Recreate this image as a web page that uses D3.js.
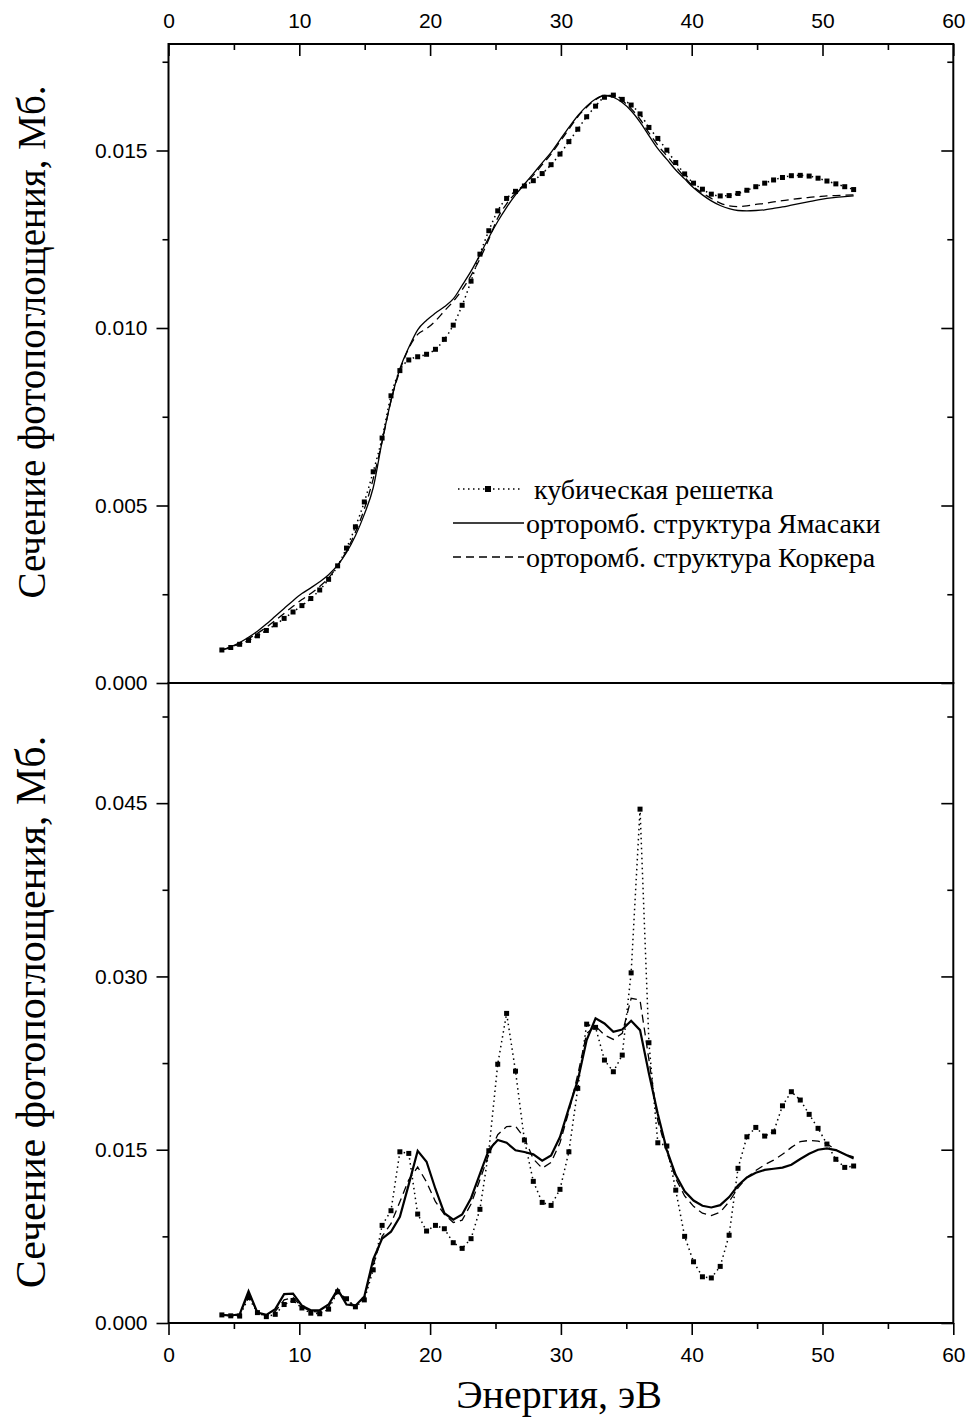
<!DOCTYPE html>
<html><head><meta charset="utf-8">
<script src="https://cdn.jsdelivr.net/npm/d3@7"></script>
<style>
html,body{margin:0;padding:0;background:#fff;}
svg{display:block;}
.tick text{font-family:"Liberation Sans",Arial,sans-serif;font-size:21px;fill:#000;}
</style></head>
<body>
<svg id="chart" width="972" height="1425"></svg>
<script>
// Energy grid (eV)
const energy = [4.08,4.76,5.44,6.12,6.80,7.48,8.16,8.84,9.52,10.20,10.88,11.56,12.24,12.93,13.61,14.29,14.97,15.65,16.33,17.01,17.69,18.37,19.05,19.73,20.41,21.09,21.77,22.45,23.13,23.81,24.49,25.17,25.85,26.53,27.21,27.89,28.57,29.25,29.93,30.61,31.29,31.97,32.65,33.33,34.01,34.69,35.37,36.05,36.73,37.41,38.10,38.78,39.46,40.14,40.82,41.50,42.18,42.86,43.54,44.22,44.90,45.58,46.26,46.94,47.62,48.30,48.98,49.66,50.34,51.02,51.70,52.38];

// Top panel, values in units of 1e-3 Mb
const topCubic = [0.93,1.00,1.09,1.20,1.33,1.48,1.64,1.82,2.00,2.18,2.38,2.62,2.92,3.30,3.80,4.40,5.10,5.95,6.90,8.09,8.80,9.10,9.19,9.26,9.40,9.68,10.08,10.64,11.32,12.08,12.74,13.30,13.65,13.85,14.00,14.15,14.35,14.60,14.90,15.25,15.60,15.95,16.25,16.50,16.56,16.44,16.28,16.03,15.65,15.34,15.01,14.66,14.34,14.08,13.91,13.77,13.72,13.73,13.79,13.88,13.98,14.08,14.17,14.24,14.29,14.30,14.28,14.22,14.14,14.06,13.98,13.90];
const topYamasaki = [0.93,1.02,1.14,1.29,1.46,1.66,1.88,2.10,2.32,2.52,2.68,2.85,3.05,3.32,3.68,4.15,4.75,5.50,6.80,7.95,8.85,9.45,9.95,10.22,10.42,10.60,10.82,11.20,11.60,12.06,12.55,13.00,13.40,13.75,14.05,14.35,14.65,14.95,15.30,15.65,15.98,16.25,16.45,16.55,16.50,16.35,16.12,15.80,15.42,15.05,14.75,14.45,14.20,13.95,13.75,13.58,13.45,13.36,13.31,13.30,13.31,13.33,13.37,13.41,13.46,13.51,13.56,13.61,13.65,13.68,13.70,13.72];
const topCorker = [0.93,1.01,1.12,1.25,1.40,1.57,1.76,1.96,2.16,2.35,2.52,2.72,2.96,3.30,3.72,4.25,4.90,5.75,6.80,7.95,8.80,9.43,9.82,9.98,10.20,10.48,10.75,11.08,11.48,11.95,12.50,13.10,13.50,13.80,14.05,14.30,14.60,14.90,15.25,15.60,15.95,16.22,16.43,16.55,16.54,16.40,16.18,15.88,15.50,15.15,14.85,14.55,14.25,13.98,13.80,13.65,13.52,13.44,13.42,13.44,13.48,13.51,13.55,13.59,13.62,13.65,13.68,13.70,13.72,13.73,13.74,13.75];

// Bottom panel, values in units of 1e-3 Mb
const botCubic = [0.70,0.62,0.60,2.20,0.90,0.55,0.75,1.60,1.95,1.30,0.85,0.80,1.20,2.70,2.10,1.40,2.00,4.60,8.45,9.72,14.82,14.68,9.43,7.96,8.45,8.16,6.95,6.46,7.30,9.84,14.91,22.40,26.80,21.80,15.84,12.26,10.44,10.18,11.57,14.82,20.31,25.87,25.59,22.76,21.75,23.19,30.31,44.48,24.26,15.60,15.32,11.50,7.50,5.30,4.00,3.90,4.90,7.60,13.39,16.12,16.93,16.18,16.55,18.80,20.02,19.30,18.06,16.85,15.49,14.17,13.47,13.59];
const botYamasaki = [0.70,0.65,0.75,2.75,0.90,0.70,1.20,2.50,2.55,1.50,1.10,1.10,1.60,2.90,1.60,1.50,2.30,5.50,7.30,7.90,9.20,12.00,14.90,13.96,11.60,9.50,8.95,9.40,10.80,12.90,15.00,15.84,15.60,14.95,14.80,14.60,14.05,14.50,16.10,18.60,21.00,24.49,26.37,25.93,25.20,25.41,26.16,25.35,21.60,18.10,14.97,12.80,11.40,10.60,10.15,10.00,10.20,10.90,11.90,12.60,13.00,13.25,13.35,13.45,13.70,14.20,14.65,15.00,15.12,14.97,14.60,14.25];
const botCorker = [0.70,0.63,0.70,2.50,0.90,0.62,1.00,2.00,2.20,1.40,1.00,0.95,1.40,2.80,1.90,1.50,2.20,5.00,7.50,8.60,10.50,12.40,13.50,12.20,10.50,9.40,8.70,8.90,10.30,12.40,14.60,16.30,17.00,17.05,16.00,14.20,13.40,13.90,15.60,18.30,21.50,25.07,25.70,24.92,24.55,25.07,28.10,27.95,22.80,17.50,14.80,12.50,11.00,10.10,9.50,9.30,9.60,10.50,11.70,12.60,13.20,13.70,14.10,14.60,15.20,15.70,15.80,15.75,15.50,15.00,14.60,14.39];

const xTicks = [0,10,20,30,40,50,60];
const xMinor = [5,15,25,35,45,55];
const topYTicks = [0.000,0.005,0.010,0.015];
const topYMinor = [0.0025,0.0075,0.0125,0.0175];
const botYTicks = [0.000,0.015,0.030,0.045];
const botYMinor = [0.0075,0.0225,0.0375,0.0525];

const yTitle = "Сечение фотопоглощения, Мб.";
const xTitle = "Энергия, эВ";
const legendLabels = ["кубическая решетка","орторомб. структура Ямасаки","орторомб. структура Коркера"];

const svg = d3.select("#chart");
const L = 168.5, R = 953.3, T = 44, MID = 683, B = 1323;
const x = d3.scaleLinear().domain([0,60]).range([L,R]);
const yTop = d3.scaleLinear().domain([0,0.018]).range([MID,T]);
const yBot = d3.scaleLinear().domain([0,0.0554]).range([B,MID]);

function series(arr){ return energy.map((e,i)=>({e:e, v:arr[i]/1000})); }

function drawAxisFrame(y, yMaj, yMin, top, bottom, showTop, showBottom){
  const fmt = d3.format(".3f");
  svg.append("g").attr("transform",`translate(${L},0)`)
    .call(d3.axisLeft(y).tickValues(yMaj).tickSize(12).tickPadding(9).tickFormat(fmt));
  svg.append("g").attr("transform",`translate(${L},0)`)
    .call(d3.axisLeft(y).tickValues(yMin).tickSize(6).tickFormat(""));
  svg.append("g").attr("transform",`translate(${R},0)`)
    .call(d3.axisRight(y).tickValues(yMaj).tickSize(-12).tickFormat(""));
  svg.append("g").attr("transform",`translate(${R},0)`)
    .call(d3.axisRight(y).tickValues(yMin).tickSize(-6).tickFormat(""));
  if(showTop){
    svg.append("g").attr("transform",`translate(0,${top})`)
      .call(d3.axisTop(x).tickValues(xTicks).tickSize(-12).tickPadding(16).tickFormat(d3.format("d")));
    svg.append("g").attr("transform",`translate(0,${top})`)
      .call(d3.axisTop(x).tickValues(xMinor).tickSize(-6).tickFormat(""));
  }
  if(showBottom){
    svg.append("g").attr("transform",`translate(0,${bottom})`)
      .call(d3.axisBottom(x).tickValues(xTicks).tickSize(12).tickPadding(12).tickFormat(d3.format("d")));
    svg.append("g").attr("transform",`translate(0,${bottom})`)
      .call(d3.axisBottom(x).tickValues(xMinor).tickSize(6).tickFormat(""));
  }
}

function drawCurves(y, cub, yam, cor, solidW){
  const line = d3.line().x(d=>x(d.e)).y(d=>y(d.v));
  const lineS = d3.line().x(d=>x(d.e)).y(d=>y(d.v)).curve(d3.curveMonotoneX);
  const lg = solidW > 1.6 ? line : lineS;
  svg.append("path").datum(series(cub)).attr("d",lg).attr("fill","none")
    .attr("stroke","#000").attr("stroke-width",1.5).attr("stroke-dasharray","1.5,3.5");
  svg.append("path").datum(series(cor)).attr("d",lg).attr("fill","none")
    .attr("stroke","#000").attr("stroke-width",1.3).attr("stroke-dasharray","8,5");
  svg.append("path").datum(series(yam)).attr("d",lg).attr("fill","none")
    .attr("stroke","#000").attr("stroke-width",solidW);
  svg.append("g").selectAll("rect").data(series(cub)).join("rect")
    .attr("x",d=>x(d.e)-2.5).attr("y",d=>y(d.v)-2.5).attr("width",5).attr("height",5).attr("fill","#000");
}

drawCurves(yTop, topCubic, topYamasaki, topCorker, 1.3);
drawCurves(yBot, botCubic, botYamasaki, botCorker, 2.2);

drawAxisFrame(yTop, topYTicks, topYMinor, T, MID, true, false);
drawAxisFrame(yBot, botYTicks, botYMinor, MID, B, false, true);

svg.selectAll(".domain").remove();
const frame = svg.append("g").attr("fill","none").attr("stroke","#000").attr("stroke-width",2);
frame.append("rect").attr("x",L).attr("y",T).attr("width",R-L).attr("height",MID-T);
frame.append("rect").attr("x",L).attr("y",MID).attr("width",R-L).attr("height",B-MID);
svg.selectAll(".tick line").attr("stroke-width",1.6);

// axis titles
const serif = "'Liberation Serif','Times New Roman',serif";
svg.append("text").attr("transform","translate(31,342) rotate(-90)")
  .attr("text-anchor","middle").attr("dominant-baseline","central")
  .style("font-family",serif).style("font-size","39px").text(yTitle);
svg.append("text").attr("transform","translate(31,1012) rotate(-90)")
  .attr("text-anchor","middle").attr("dominant-baseline","central")
  .style("font-family",serif).style("font-size","42px").text(yTitle);
svg.append("text").attr("x",559).attr("y",1408).attr("text-anchor","middle")
  .style("font-family",serif).style("font-size","40px").text(xTitle);

// legend
const lg = svg.append("g");
const rows = [489,523,557];
lg.append("line").attr("x1",458).attr("x2",520).attr("y1",rows[0]).attr("y2",rows[0])
  .attr("stroke","#000").attr("stroke-width",1.5).attr("stroke-dasharray","1.5,3.5");
lg.append("rect").attr("x",485).attr("y",rows[0]-3).attr("width",6).attr("height",6).attr("fill","#000");
lg.append("line").attr("x1",453).attr("x2",524).attr("y1",rows[1]).attr("y2",rows[1])
  .attr("stroke","#000").attr("stroke-width",1.3);
lg.append("line").attr("x1",453).attr("x2",524).attr("y1",rows[2]).attr("y2",rows[2])
  .attr("stroke","#000").attr("stroke-width",1.3).attr("stroke-dasharray","8,5");
const textX = [534,526,526];
legendLabels.forEach((t,i)=>{
  lg.append("text").attr("x",textX[i]).attr("y",rows[i]).attr("dominant-baseline","central")
    .style("font-family",serif).style("font-size","28px").text(t);
});
</script>
</body></html>
